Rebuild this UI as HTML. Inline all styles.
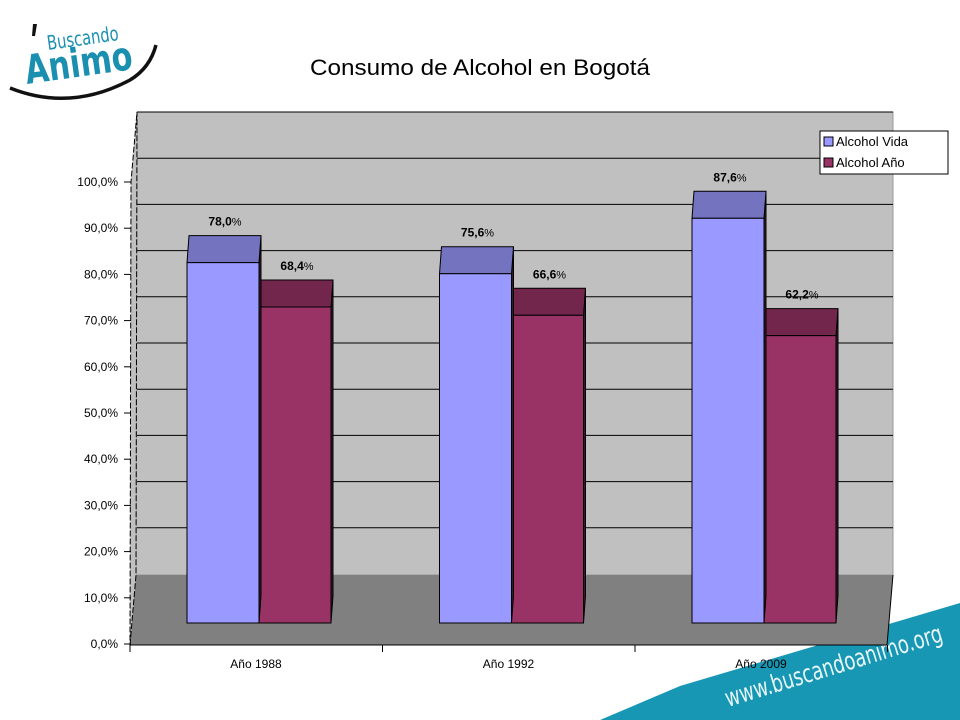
<!DOCTYPE html>
<html><head><meta charset="utf-8">
<style>
html,body{margin:0;padding:0;background:#fff;}
svg{display:block;font-family:"Liberation Sans",Arial,sans-serif;}
</style></head>
<body>
<svg id="chart" width="960" height="720" viewBox="0 0 960 720" xmlns="http://www.w3.org/2000/svg">
  <g>
    <path d="M10 88 Q70 112 130 80 Q150 68 156 45" fill="none" stroke="#111" stroke-width="3.5"/>
    <path d="M33 24 L37 24 L35 36 L32 36 Z" fill="#111"/>
    <text x="48" y="50" font-size="20" fill="#1a8fb0" textLength="72" lengthAdjust="spacingAndGlyphs" transform="rotate(-8 48 50)" style="font-family:'Liberation Sans Narrow','DejaVu Sans Condensed',sans-serif">Buscando</text>
    <text x="27" y="84" font-size="40" font-weight="bold" fill="#1a8fb0" textLength="108" lengthAdjust="spacingAndGlyphs" transform="rotate(-8 27 84)" style="font-family:'Liberation Sans Narrow','DejaVu Sans Condensed',sans-serif">Animo</text>
  </g>
  <text x="480" y="75" text-anchor="middle" font-size="22" fill="#000" textLength="340" lengthAdjust="spacingAndGlyphs">Consumo de Alcohol en Bogotá</text>
  <g>
    <polygon points="680,686 960,603 960,720 600,720" fill="#1797b3"/>
    <text x="836" y="674" text-anchor="middle" font-size="25" fill="#e8f6fa" textLength="226" lengthAdjust="spacingAndGlyphs" transform="rotate(-17 836 674)" style="font-family:'Liberation Sans Narrow','DejaVu Sans Condensed',sans-serif">www.buscandoanimo.org</text>
  </g>
  <g id="plot"></g>
  <g>
    <rect x="820" y="131" width="128" height="43" fill="#fff" stroke="#000" stroke-width="1"/>
    <rect x="824" y="137" width="9" height="9" fill="#9999ff" stroke="#000" stroke-width="1"/>
    <text x="836" y="146" font-size="13">Alcohol Vida</text>
    <rect x="824" y="158" width="9" height="9" fill="#993366" stroke="#000" stroke-width="1"/>
    <text x="836" y="167" font-size="13">Alcohol Año</text>
  </g>
</svg>
<script>
const categories = ["Año 1988", "Año 1992", "Año 2009"];
const vidaValues = [78.0, 75.6, 87.6];
const anoValues = [68.4, 66.6, 62.2];
const vidaLabels = ["78,0", "75,6", "87,6"];
const anoLabels = ["68,4", "66,6", "62,2"];
const yTicks = [0,10,20,30,40,50,60,70,80,90,100];
const yTickLabels = ["0,0%","10,0%","20,0%","30,0%","40,0%","50,0%","60,0%","70,0%","80,0%","90,0%","100,0%"];

const NS = "http://www.w3.org/2000/svg";
const plot = document.getElementById("plot");
function mk(tag, attrs, parent){const e=document.createElementNS(NS,tag);for(const k in attrs)e.setAttribute(k,attrs[k]);(parent||plot).appendChild(e);return e;}

const PX = 4.62;
const yFront = v => 644 - v*PX;
const yBack = v => 574 - v*PX;
const yBar = v => 623 - v*PX;
const x0 = 130, catW = 252.5;
const catX = i => x0 + catW*i;

let w = mk("polygon",{points:"137,112 893,112 893,575 136,575",fill:"#c0c0c0",stroke:"#999","stroke-width":1});


let f = mk("polygon",{points:"136,575 893,575 887,645 130,645",fill:"#808080"});


let sw = mk("polygon",{points:"130,645 136,575 137,112 131,182",fill:"#c0c0c0",stroke:"#000","stroke-width":1,"stroke-dasharray":"6,2"});


let fe = mk("line",{x1:893,y1:575,x2:887,y2:645,stroke:"#000","stroke-width":1});


yTicks.forEach((t,i)=>{
  if(t>0){
    const g = mk("line",{x1:137,x2:893,y1:yBack(t),y2:yBack(t),stroke:"#000","stroke-width":1});
    
    
  }
  const tk = mk("line",{x1:124,x2:131,y1:yFront(t),y2:yFront(t),stroke:"#000","stroke-width":1});
  
  
  const lb = mk("text",{x:118,y:yFront(t)+4,"text-anchor":"end","font-size":12});
  lb.textContent = yTickLabels[i];
  
  
});
let xa = mk("line",{x1:130,x2:887,y1:645,y2:645,stroke:"#000","stroke-width":1});


for(let i=0;i<=categories.length;i++){
  const t = mk("line",{x1:catX(i),x2:catX(i),y1:645,y2:652,stroke:"#000","stroke-width":1});
  
  
}
categories.forEach((c,i)=>{
  const t = mk("text",{x:catX(i)+126,y:668,"text-anchor":"middle","font-size":12});
  t.textContent = c;
  
  
});

function bar(i, v, label, xl, front, top, name){
  const bw = 72, dx = 2, dy = 27;
  const yt = yBar(v), yb = 623;
  const g = mk("g",{});
  
  
  mk("polygon",{points:`${xl+bw},${yt} ${xl+bw+dx},${yt-dy} ${xl+bw+dx},${yb-dy} ${xl+bw},${yb}`,fill:"#3a1a28",stroke:"#000","stroke-width":1},g);
  mk("polygon",{points:`${xl},${yt} ${xl+dx},${yt-dy} ${xl+bw+dx},${yt-dy} ${xl+bw},${yt}`,fill:top,stroke:"#000","stroke-width":1},g);
  mk("rect",{x:xl,y:yt,width:bw,height:yb-yt,fill:front,stroke:"#000","stroke-width":1},g);
  const t = mk("text",{x:xl+bw/2+2,y:yt-dy-10,"text-anchor":"middle","font-size":12,"font-weight":"bold"});
  t.textContent = label;
  const ts = document.createElementNS(NS,"tspan");
  ts.setAttribute("font-weight","normal");ts.setAttribute("font-size","11");
  ts.textContent="%";t.appendChild(ts);
  
  
}
categories.forEach((c,i)=>{
  const xl = catX(i)+57;
  bar(i, anoValues[i], anoLabels[i], xl+72, "#993366", "#73264c", "bar-ano");
  bar(i, vidaValues[i], vidaLabels[i], xl, "#9999ff", "#7373c0", "bar-vida");
});
</script>
</body></html>
